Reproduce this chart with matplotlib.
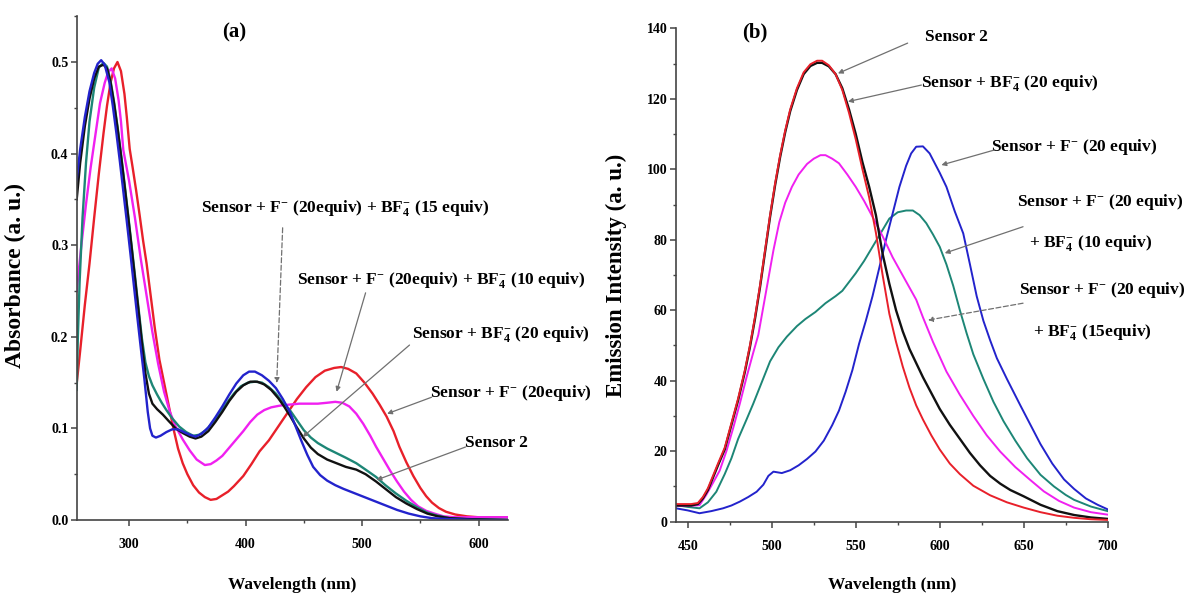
import matplotlib
matplotlib.use("Agg")
import matplotlib.pyplot as plt
from matplotlib.ticker import MultipleLocator

plt.rcParams['font.family'] = ['Liberation Serif', 'DejaVu Serif']
plt.rcParams['font.weight'] = 'bold'
plt.rcParams['mathtext.fontset'] = 'custom'
plt.rcParams['mathtext.rm'] = 'Liberation Serif:bold'
plt.rcParams['mathtext.it'] = 'Liberation Serif:bold'
plt.rcParams['mathtext.bf'] = 'Liberation Serif:bold'
plt.rcParams['mathtext.default'] = 'bf'

# ---- (a) absorbance spectra ----
abs_blue_wl = [255, 258, 262, 266, 270, 273, 276, 279, 283, 286, 289, 292, 295, 298, 301, 304, 307, 310,
               313, 316, 318, 320, 323, 327, 332, 337, 342, 347, 352, 357, 362, 368, 374, 380, 386, 392,
               398, 403, 408, 414, 420, 426, 432, 438, 443, 448, 453, 458, 464, 470, 477, 484, 492, 500,
               510, 520, 530, 540, 550, 560, 575, 600, 625]
abs_blue = [0.371, 0.405, 0.44, 0.468, 0.488, 0.498, 0.502, 0.497, 0.478, 0.452, 0.423, 0.392, 0.359, 0.326,
            0.292, 0.257, 0.222, 0.188, 0.155, 0.118, 0.100, 0.092, 0.090, 0.092, 0.096, 0.099, 0.099, 0.096,
            0.093, 0.091, 0.094, 0.101, 0.112, 0.124, 0.137, 0.149, 0.158, 0.162, 0.162, 0.158, 0.152, 0.144,
            0.132, 0.118, 0.102, 0.086, 0.071, 0.058, 0.049, 0.043, 0.038, 0.034, 0.030, 0.026, 0.021, 0.016,
            0.011, 0.007, 0.004, 0.002, 0.001, 0.0, 0.0]

abs_black_wl = [255, 258, 262, 266, 270, 274, 278, 281, 284, 287, 290, 293, 296, 299, 302, 305, 308, 311,
                314, 317, 320, 324, 329, 334, 340, 346, 352, 357, 362, 368, 374, 380, 386, 392, 398, 404,
                410, 416, 422, 428, 433, 438, 444, 450, 456, 462, 470, 478, 486, 495, 503, 512, 520, 529,
                538, 547, 556, 565, 575, 590, 625]
abs_black = [0.35, 0.39, 0.43, 0.46, 0.482, 0.495, 0.497, 0.493, 0.478, 0.455, 0.428, 0.398, 0.366, 0.333,
             0.299, 0.264, 0.229, 0.193, 0.160, 0.138, 0.127, 0.121, 0.115, 0.108, 0.100, 0.095, 0.091, 0.089,
             0.091, 0.097, 0.107, 0.118, 0.130, 0.140, 0.147, 0.151, 0.151, 0.148, 0.142, 0.133, 0.124, 0.114,
             0.101, 0.089, 0.079, 0.072, 0.066, 0.062, 0.058, 0.055, 0.050, 0.042, 0.034, 0.025, 0.018, 0.012,
             0.007, 0.004, 0.002, 0.001, 0.0]

abs_teal_wl = [255, 256, 257.5, 260, 263, 266, 270, 274, 278, 281, 284, 287, 290, 293, 296, 299, 302, 305,
               308, 311, 314, 317, 320, 324, 328, 332, 337, 343, 349, 355, 360, 366, 372, 378, 384, 390, 396,
               402, 408, 414, 420, 426, 432, 438, 444, 450, 456, 462, 470, 478, 486, 495, 503, 512, 520, 529,
               538, 547, 556, 564, 575, 590, 625]
abs_teal = [0.142, 0.2, 0.26, 0.33, 0.39, 0.435, 0.472, 0.494, 0.499, 0.495, 0.48, 0.457, 0.43, 0.4, 0.368,
            0.335, 0.301, 0.267, 0.232, 0.198, 0.172, 0.157, 0.147, 0.137, 0.128, 0.12, 0.111, 0.102, 0.096,
            0.092, 0.093, 0.098, 0.107, 0.117, 0.128, 0.138, 0.146, 0.15, 0.151, 0.15, 0.145, 0.138, 0.128,
            0.12, 0.109, 0.098, 0.09, 0.084, 0.078, 0.073, 0.068, 0.062, 0.055, 0.047, 0.038, 0.029, 0.021,
            0.014, 0.008, 0.005, 0.002, 0.001, 0.0]

abs_magenta_wl = [255, 259, 263, 267, 271, 275, 279, 282, 285, 288, 291, 293, 295, 300, 305, 310, 315, 320,
                  325, 330, 335, 340, 346, 352, 358, 365, 370, 375, 380, 386, 392, 398, 404, 410, 416, 422,
                  430, 438, 446, 454, 462, 470, 477, 483, 489, 495, 501, 507, 512, 518, 524, 530, 536, 542,
                  548, 555, 562, 570, 580, 600, 625]
abs_magenta = [0.25, 0.3, 0.345, 0.385, 0.42, 0.455, 0.477, 0.489, 0.493, 0.482, 0.458, 0.435, 0.404, 0.37,
               0.33, 0.285, 0.245, 0.205, 0.17, 0.14, 0.118, 0.102, 0.088, 0.076, 0.066, 0.06, 0.061, 0.065,
               0.07, 0.079, 0.088, 0.097, 0.107, 0.115, 0.12, 0.123, 0.125, 0.126, 0.127, 0.127, 0.127, 0.128,
               0.129, 0.128, 0.124, 0.116, 0.105, 0.092, 0.08, 0.067, 0.054, 0.042, 0.031, 0.022, 0.015, 0.01,
               0.007, 0.004, 0.003, 0.003, 0.003]

abs_red_wl = [255, 258, 262, 266, 270, 274, 278, 281, 284, 287, 290, 293, 296, 298, 300.5, 303, 306, 309,
              312, 315, 318, 322, 326, 330, 334, 338, 342, 346, 350, 355, 360, 365, 370, 375, 380, 385, 390,
              398, 405, 412, 420, 428, 436, 444, 452, 460, 468, 476, 482, 488, 495, 502, 509, 515, 521, 527,
              532, 538, 544, 550, 555, 560, 566, 572, 580, 590, 600, 625]
abs_red = [0.149, 0.185, 0.235, 0.28, 0.33, 0.378, 0.422, 0.452, 0.477, 0.493, 0.5, 0.49, 0.465, 0.44, 0.405,
           0.385, 0.36, 0.333, 0.305, 0.28, 0.25, 0.21, 0.175, 0.15, 0.125, 0.1, 0.078, 0.062, 0.05, 0.038,
           0.03, 0.025, 0.022, 0.023, 0.027, 0.031, 0.037, 0.048, 0.061, 0.075, 0.087, 0.102, 0.117, 0.132,
           0.145, 0.156, 0.163, 0.166, 0.167, 0.165, 0.16, 0.15, 0.138, 0.126, 0.113, 0.097, 0.08, 0.063,
           0.048, 0.035, 0.026, 0.019, 0.013, 0.009, 0.006, 0.004, 0.003, 0.003]

# ---- (b) emission spectra ----
em_red_wl = [443, 452, 456, 459, 462, 465, 468, 472, 476, 480, 484, 487, 490, 493, 496, 499, 502, 505, 508,
             511, 515, 519, 523, 527, 530, 534, 538, 542, 546, 550, 554, 558, 562, 566, 570, 574, 578, 582,
             586, 590, 595, 600, 606, 612, 620, 630, 640, 650, 660, 670, 680, 690, 700]
em_red = [5, 5, 5.3, 7, 9.5, 13, 16.5, 21, 28, 35, 43, 50, 58, 67, 77, 87, 96, 104, 111, 117, 123, 127.5,
          129.8, 130.8, 130.8, 129.5, 127, 122.5, 116, 108.5, 100, 92, 82, 70, 59, 51, 44, 38, 33, 29, 24.5,
          20.5, 16.5, 13.5, 10.2, 7.5, 5.5, 4.0, 2.7, 1.7, 1.1, 0.7, 0.5]

em_black_wl = [443, 452, 456, 459, 462, 465, 468, 472, 476, 480, 484, 487, 490, 493, 496, 499, 502, 505, 508,
               511, 515, 519, 523, 527, 530, 534, 538, 542, 546, 550, 554, 558, 562, 566, 570, 574, 578, 582,
               586, 590, 595, 600, 606, 612, 618, 624, 630, 636, 642, 650, 660, 670, 680, 690, 700]
em_black = [4.6, 4.6, 5, 6.6, 9, 12.5, 16, 20.5, 27.5, 34.5, 42.5, 49.5, 57.5, 66.5, 76.5, 86.5, 95.5, 103.5,
            110.5, 116.5, 122.5, 127, 129.3, 130.2, 130.2, 129.2, 127, 123, 117, 110, 102, 95, 87, 76, 67.5,
            60, 54, 49, 45, 41, 36.5, 32, 27.5, 23.5, 19.5, 16, 13, 10.8, 9, 7.2, 4.8, 3.0, 1.9, 1.2, 0.8]

em_magenta_wl = [443, 452, 457, 461, 465, 469, 473, 477, 481, 485, 489, 492, 495, 498, 501, 504.5, 508, 512,
                 516, 521, 525, 529, 532, 536, 540, 545, 550, 555, 560, 566, 572, 579, 586, 590, 596, 604, 612,
                 620, 628, 636, 645, 654, 662, 671, 680, 690, 700]
em_magenta = [4.5, 4.5, 4.7, 7.6, 11, 14.5, 20, 26.5, 33.5, 41, 48, 53, 61, 69, 77, 85, 90.5, 95, 98.5, 101.5,
              103, 104, 104, 103, 101.7, 98.5, 95, 91, 86.5, 81, 75, 69, 63, 58, 51, 42.6, 36, 30, 24.5, 19.9,
              15.5, 11.8, 8.6, 5.9, 4.0, 2.7, 2]

em_teal_wl = [443, 450, 457, 462, 467, 472, 476, 480, 485, 489, 494, 499, 504, 509, 515, 520, 526, 532, 538,
              542, 546, 550, 555, 560, 565, 570, 575, 580, 584, 588, 592, 596, 600, 604, 608, 612, 616, 620,
              626, 632, 638, 645, 652, 660, 668, 675, 680, 690, 700]
em_teal = [4.7, 4.2, 3.8, 5.5, 8.5, 13.5, 18, 23.5, 29, 33.5, 39.5, 45.5, 49.5, 52.5, 55.5, 57.5, 59.5, 62,
           64, 65.5, 68, 70.5, 74, 78, 82, 86, 87.8, 88.3, 88.3, 87, 84.7, 81.5, 78, 73, 67, 60, 53.5, 47.5,
           40.5, 34, 28.5, 23, 18, 13.3, 10, 7.6, 6.2, 4.3, 3]

em_blue_wl = [443, 450, 457, 464, 471, 476, 481, 486, 491, 495, 498, 501, 506, 511, 516, 521, 526, 531, 536,
              540, 544, 548, 552, 556, 560, 564, 568, 572, 576, 580, 583, 586, 590, 594, 600, 604, 609, 614,
              618, 622, 626, 630, 634, 640, 648, 654, 660, 667, 674, 680, 687, 694, 700]
em_blue = [3.8, 3.2, 2.4, 3, 3.8, 4.6, 5.7, 7, 8.5, 10.5, 13, 14.2, 13.8, 14.6, 16, 17.8, 19.9, 23, 27.4,
           31.5, 36.9, 43, 50.5, 57, 64, 72, 80, 87.5, 95, 101, 104.5, 106.4, 106.5, 104.5, 99, 95, 88, 81.8,
           73, 64, 57, 51.5, 46.4, 40.5, 33, 27.5, 22, 16.5, 12, 9.3, 6.6, 4.8, 3.5]

RED = '#e8202a'
MAG = '#f020f0'
TEAL = '#1d8676'
BLUE = '#2323cc'
BLACK = '#111111'

fig = plt.figure(figsize=(11.84, 5.95), dpi=100)
ax1 = fig.add_axes([76.7 / 1184, 1 - 520 / 595, (507.7 - 76.7) / 1184, (520 - 16.2) / 595])
ax2 = fig.add_axes([676 / 1184, 1 - 521.7 / 595, (1107.7 - 676) / 1184, (521.7 - 28.3) / 595])

lw1 = 1.7
ax1.plot(abs_red_wl, abs_red, color=RED, lw=lw1)
ax1.plot(abs_magenta_wl, abs_magenta, color=MAG, lw=lw1)
ax1.plot(abs_teal_wl, abs_teal, color=TEAL, lw=lw1)
ax1.plot(abs_black_wl, abs_black, color=BLACK, lw=lw1)
ax1.plot(abs_blue_wl, abs_blue, color=BLUE, lw=lw1)

lw2 = 1.4
ax2.plot(em_teal_wl, em_teal, color=TEAL, lw=lw2)
ax2.plot(em_blue_wl, em_blue, color=BLUE, lw=lw2)
ax2.plot(em_magenta_wl, em_magenta, color=MAG, lw=lw2)
ax2.plot(em_black_wl, em_black, color=BLACK, lw=lw2 + 0.3)
ax2.plot(em_red_wl, em_red, color=RED, lw=lw2)

ax1.set_xlim(255, 625)
ax1.set_ylim(0, 0.55)
ax1.xaxis.set_major_locator(MultipleLocator(100))
ax1.xaxis.set_minor_locator(MultipleLocator(50))
ax1.yaxis.set_minor_locator(MultipleLocator(0.05))
ax1.set_yticks([0.0, 0.1, 0.2, 0.3, 0.4, 0.5])
ax1.set_yticklabels(['0.0', '0.1', '0.2', '0.3', '0.4', '0.5'])

ax2.set_xlim(443, 700)
ax2.set_ylim(0, 140)
ax2.xaxis.set_major_locator(MultipleLocator(50))
ax2.xaxis.set_minor_locator(MultipleLocator(25))
ax2.yaxis.set_major_locator(MultipleLocator(20))
ax2.yaxis.set_minor_locator(MultipleLocator(10))

for ax in (ax1, ax2):
    ax.spines['top'].set_visible(False)
    ax.spines['right'].set_visible(False)
    for s in ('left', 'bottom'):
        ax.spines[s].set_color('#444444')
        ax.spines[s].set_linewidth(1.2)
    ax.tick_params(which='major', direction='out', length=4, width=1.1, color='#444444', labelsize=10)
    ax.tick_params(which='minor', direction='out', length=2.5, width=1.0, color='#444444')
    ax.tick_params(axis='x', which='major', pad=9)
    ax.tick_params(axis='y', which='major', pad=2)
    ax.set_xlabel('Wavelength (nm)', fontsize=12.5, fontweight='bold', va='center')

ax1.xaxis.set_label_coords(0.5, -0.129)
ax2.xaxis.set_label_coords(0.5, -0.128)

ax1.set_ylabel('Absorbance (a. u.)', fontsize=17, fontweight='bold', va='center')
ax2.set_ylabel('Emission Intensity (a. u.)', fontsize=16.5, fontweight='bold', va='center')
ax1.yaxis.set_label_coords(-0.143, 0.486)
ax2.yaxis.set_label_coords(-0.137, 0.5)

ax1.text(390, 0.532, '(a)', fontsize=15, fontweight='bold', ha='center', va='center')
ax2.text(490, 138.7, '(b)', fontsize=15, fontweight='bold', ha='center', va='center', clip_on=False)

fs = 12.5
arrow = dict(arrowstyle='-|>', color='#707070', lw=0.9, mutation_scale=7, shrinkA=0, shrinkB=0)
arrow_d = dict(arrowstyle='-|>', color='#707070', lw=0.9, mutation_scale=7, shrinkA=0, shrinkB=0,
               linestyle=(0, (4, 2)))

# panel (a) labels
ax1.text(485.4, 0.3406, r'Sensor + F$^{-}$ (20equiv) + BF$_{4}^{-}$ (15 equiv)', fontsize=fs,
         ha='center', va='center', clip_on=False)
ax1.annotate('', xy=(426.7, 0.1496), xytext=(431.8, 0.319), arrowprops=arrow_d, annotation_clip=False)
ax1.text(568.2, 0.262, r'Sensor + F$^{-}$ (20equiv) + BF$_{4}^{-}$ (10 equiv)', fontsize=fs,
         ha='center', va='center', clip_on=False)
ax1.annotate('', xy=(478.1, 0.14), xytext=(503, 0.248), arrowprops=arrow, annotation_clip=False)
ax1.text(618.8, 0.203, r'Sensor + BF$_{4}^{-}$ (20 equiv)', fontsize=fs,
         ha='center', va='center', clip_on=False)
ax1.annotate('', xy=(449, 0.0906), xytext=(540.7, 0.191), arrowprops=arrow, annotation_clip=False)
ax1.text(627.8, 0.1386, r'Sensor + F$^{-}$ (20equiv)', fontsize=fs,
         ha='center', va='center', clip_on=False)
ax1.annotate('', xy=(521.5, 0.116), xytext=(559.6, 0.134), arrowprops=arrow, annotation_clip=False)
ax1.text(615.4, 0.084, 'Sensor 2', fontsize=fs, ha='center', va='center', clip_on=False)
ax1.annotate('', xy=(512.4, 0.0437), xytext=(588.8, 0.0797), arrowprops=arrow, annotation_clip=False)

# panel (b) labels
ax2.text(610.1, 137.5, 'Sensor 2', fontsize=fs, ha='center', va='center', clip_on=False)
ax2.annotate('', xy=(539.4, 127.2), xytext=(580.9, 135.8), arrowprops=arrow, annotation_clip=False)
ax2.text(641.7, 124.5, r'Sensor + BF$_{4}^{-}$ (20 equiv)', fontsize=fs, ha='center', va='center',
         clip_on=False)
ax2.annotate('', xy=(545.4, 119.2), xytext=(589.1, 123.9), arrowprops=arrow, annotation_clip=False)
ax2.text(680.2, 106.3, r'Sensor + F$^{-}$ (20 equiv)', fontsize=fs, ha='center', va='center',
         clip_on=False)
ax2.annotate('', xy=(601, 101.2), xytext=(632.8, 105.5), arrowprops=arrow, annotation_clip=False)
ax2.text(695.6, 90.7, r'Sensor + F$^{-}$ (20 equiv)', fontsize=fs, ha='center', va='center',
         clip_on=False)
ax2.text(690, 79, r'+ BF$_{4}^{-}$ (10 equiv)', fontsize=fs, ha='center', va='center', clip_on=False)
ax2.annotate('', xy=(603, 76.2), xytext=(649.6, 83.7), arrowprops=arrow, annotation_clip=False)
ax2.text(696.6, 65.7, r'Sensor + F$^{-}$ (20 equiv)', fontsize=fs, ha='center', va='center',
         clip_on=False)
ax2.text(690.9, 53.8, r'+ BF$_{4}^{-}$ (15equiv)', fontsize=fs, ha='center', va='center', clip_on=False)
ax2.annotate('', xy=(593, 57.2), xytext=(649.6, 62), arrowprops=arrow_d, annotation_clip=False)

fig.savefig('out.png', dpi=100)
